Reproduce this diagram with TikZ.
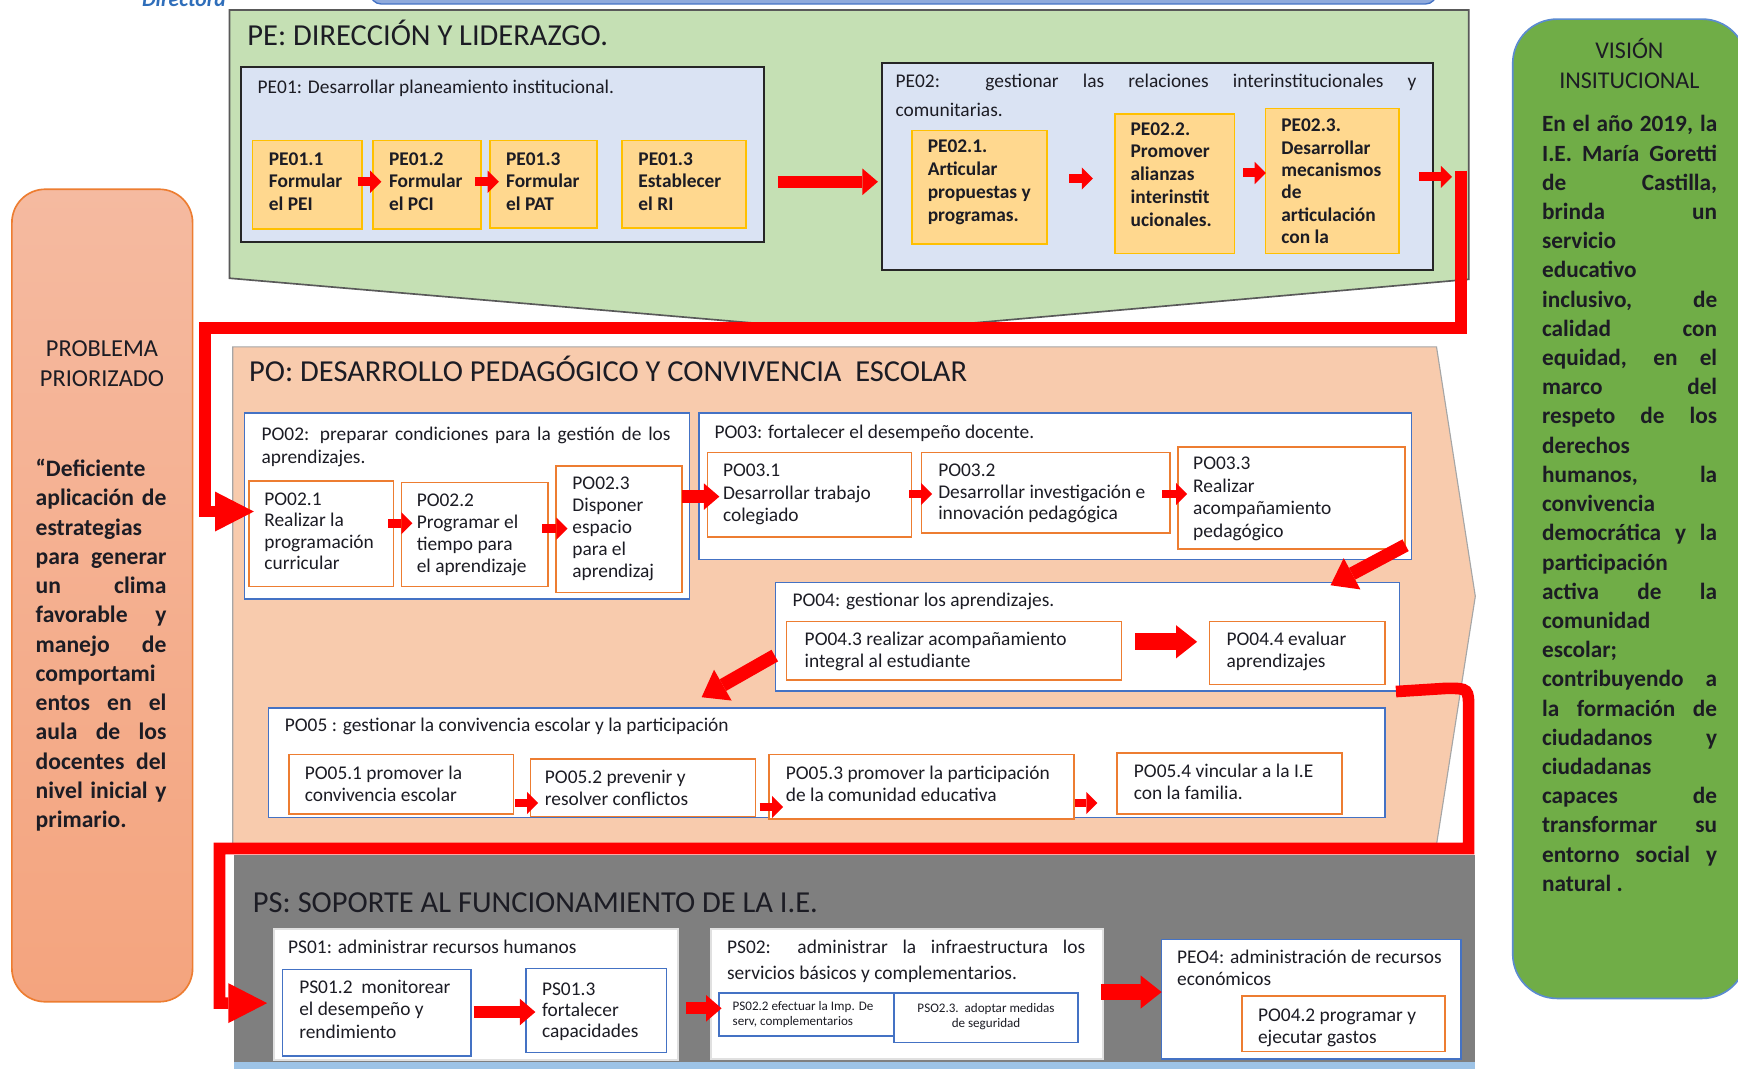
\documentclass[tikz,border=0pt]{standalone}
\usepackage{fontspec}
\setmainfont{Carlito}
\usetikzlibrary{arrows.meta}
\definecolor{ink}{HTML}{1C1C24}
\definecolor{pegreen}{HTML}{C5E0B4}
\definecolor{lblue}{HTML}{DAE3F3}
\definecolor{yell}{HTML}{FFD88F}
\definecolor{gold}{HTML}{FFC000}
\definecolor{peach}{HTML}{F8CBAD}
\definecolor{orng}{HTML}{ED7D31}
\definecolor{bblue}{HTML}{4472C4}
\definecolor{psgray}{HTML}{7F7F7F}
\definecolor{strip}{HTML}{9DC3E6}
\definecolor{salmontop}{HTML}{F5BAA0}
\definecolor{salmonbot}{HTML}{F4A47E}
\definecolor{vgreen}{HTML}{70AD47}
\definecolor{vborder}{HTML}{5B8BD0}
\definecolor{barblue}{HTML}{8FAADC}
\definecolor{dirblue}{HTML}{2F6EBA}
\newcommand\fs[2]{\fontsize{#1pt}{#2pt}\selectfont}
\newcommand\jst[2]{\makebox[#1pt][s]{#2}}
\newcommand\ml[1]{\begin{tabular}[t]{@{}l@{}}#1\end{tabular}}
\newcommand\mlc[1]{\begin{tabular}[t]{@{}c@{}}#1\end{tabular}}
\newcommand\mk[6]{\node[#1, anchor=north west, minimum width=#5pt-#3pt, minimum height=#6pt-#4pt] (#2) at (#3,#4) {};}
\newcommand\harr[6]{\draw[#1, shorten <=#5pt, shorten >=#6pt] (#2.east |- 0,#4) -- (#3.west |- 0,#4);}
\begin{document}
\begin{tikzpicture}[x=1pt,y=-1pt,
 tx/.style={inner sep=0pt, outer sep=0pt, anchor=base west, text=ink, font=\fs{17.5}{20.5}},
 txb/.style={tx, font=\fs{17.5}{20.5}\bfseries},
 ttl/.style={inner sep=0pt, anchor=base west, text=ink, font=\fs{27.5}{30}},
 ybox/.style={draw=gold, fill=yell, line width=1.6pt, inner sep=0pt},
 lbbox/.style={draw=black!85, fill=lblue, line width=1.8pt, inner sep=0pt},
 wbb/.style={draw=bblue, fill=white, line width=1.4pt, inner sep=0pt},
 wob/.style={draw=orng, fill=white, line width=1.4pt, inner sep=0pt},
 wgb/.style={draw=black!12, fill=white, line width=2pt, inner sep=0pt},
 sarr/.style={draw=red, line width=8pt, -{Triangle[length=10pt,width=20pt,line width=0pt]}},
 marr/.style={draw=red, line width=11pt, -{Triangle[length=14pt,width=24pt,line width=0pt]}},
 larr/.style={draw=red, line width=15pt, -{Triangle[length=19pt,width=30pt,line width=0pt]}},
 darr/.style={draw=red, line width=12pt, -{Triangle[length=22pt,width=32pt,line width=0pt]}},
 bigl/.style={draw=red, line width=10.5pt, -{Triangle[length=35pt,width=36pt,line width=0pt]}},
]
\useasboundingbox (0,0) rectangle (1568,964.4);
\fill[white] (0,0) rectangle (1568,964.4);

% top decorations
\fill[barblue, draw=bblue, line width=1.2pt, rounded corners=10pt] (334,-20) rectangle (1296,3.6);
\node[inner sep=0pt, anchor=base west, text=dirblue, font=\fs{19.5}{20}\bfseries\itshape] (dir) at (128,6) {Directora};

% section backgrounds
\fill[pegreen, draw=black!65, line width=1.5pt] (207,9) -- (1325,9) -- (1325,252) -- (780,300) -- (207,251) -- cycle;
\fill[peach, draw=black!35, line width=1pt] (210,313) -- (1296,313) -- (1331,538) -- (1296,762) -- (210,762) -- cycle;
\fill[psgray] (211,771) rectangle (1331,960);
\fill[strip] (211,958) rectangle (1331,966);

% side boxes
\node[draw=orng, top color=salmontop, bottom color=salmonbot, rounded corners=30pt, line width=1.5pt, anchor=north west, minimum width=163pt, minimum height=733pt] (prob) at (10,170) {};
\node[draw=vborder, fill=vgreen, rounded corners=40pt, line width=1.5pt, anchor=north west, minimum width=211pt, minimum height=883.5pt] (vis) at (1364,16.5) {};
\node[inner sep=0pt, anchor=base, text=ink, font=\fs{22}{27}] (probt) at (92,322) {\mlc{PROBLEMA\\PRIORIZADO}};
\node[inner sep=0pt, anchor=base west, text=ink, font=\fs{21.3}{26.4}\bfseries] (probb) at (32,430) {\ml{%
“Deficiente\\
\jst{118}{aplicación de}\\
estrategias\\
\jst{118}{para generar}\\
\jst{118}{un clima}\\
\jst{118}{favorable y}\\
\jst{118}{manejo de}\\
comportami\\
\jst{118}{entos en el}\\
\jst{118}{aula de los}\\
\jst{118}{docentes del}\\
\jst{118}{nivel inicial y}\\
primario.}};
\node[inner sep=0pt, anchor=base, text=ink, font=\fs{21.7}{27}] (vist) at (1470,52.6) {\mlc{VISIÓN\\INSITUCIONAL}};
\node[inner sep=0pt, anchor=base west, text=ink, font=\fs{21}{26.35}\bfseries] (visb) at (1391,119) {\ml{%
\jst{158}{En el año 2019, la}\\
\jst{158}{I.E. María Goretti}\\
\jst{158}{de Castilla,}\\
\jst{158}{brinda un}\\
servicio\\
educativo\\
\jst{158}{inclusivo, de}\\
\jst{158}{calidad con}\\
\jst{158}{equidad, en el}\\
\jst{158}{marco del}\\
\jst{158}{respeto de los}\\
derechos\\
\jst{158}{humanos, la}\\
convivencia\\
\jst{158}{democrática y la}\\
participación\\
\jst{158}{activa de la}\\
comunidad\\
escolar;\\
\jst{158}{contribuyendo a}\\
\jst{158}{la formación de}\\
\jst{158}{ciudadanos y}\\
ciudadanas\\
\jst{158}{capaces de}\\
\jst{158}{transformar su}\\
\jst{158}{entorno social y}\\
natural .}};

% ===== PE =====
\node[ttl] (pet) at (223,41) {PE: DIRECCIÓN Y LIDERAZGO.};
\mk{lbbox}{pe01}{216.5}{59.6}{688}{217}
\node[tx] (pe01t) at (232.5,84) {PE01: Desarrollar planeamiento institucional.};
\mk{ybox}{pe11}{227}{126}{326}{206}
\mk{ybox}{pe12}{336}{126}{433}{206}
\mk{ybox}{pe13}{441}{126}{538}{205}
\mk{ybox}{pe14}{560.6}{126}{672}{205}
\node[txb] (pe11t) at (242.6,149) {\ml{PE01.1\\Formular\\el PEI}};
\node[txb] (pe12t) at (351,149) {\ml{PE01.2\\Formular\\el PCI}};
\node[txb] (pe13t) at (456.6,149) {\ml{PE01.3\\Formular\\el PAT}};
\node[txb] (pe14t) at (576,149) {\ml{PE01.3\\Establecer\\el RI}};
\harr{sarr}{pe11}{pe12}{164}{-5}{-8}
\harr{sarr}{pe12}{pe13}{164}{-6}{-9}

\mk{lbbox}{pe02}{795}{56}{1292}{243}
\node[tx, font=\fs{17.5}{26}] (pe02t) at (808,79) {\ml{\jst{470}{PE02: gestionar las relaciones interinstitucionales y}\\comunitarias.}};
\mk{ybox}{pe21}{822}{117}{944}{219.6}
\mk{ybox}{pe22}{1005}{102}{1113}{228}
\mk{ybox}{pe23}{1141}{97}{1261}{228}
\node[txb] (pe21t) at (837,138) {\ml{PE02.1.\\Articular\\propuestas y\\programas.}};
\node[txb] (pe22t) at (1020,122) {\ml{PE02.2.\\Promover\\alianzas\\interinstit\\ucionales.}};
\node[txb, font=\fs{17.5}{20.1}\bfseries] (pe23t) at (1156,119) {\ml{PE02.3.\\Desarrollar\\mecanismos\\de\\articulación\\con la}};
\harr{marr}{pe01}{pe02}{164}{12}{3}
\harr{sarr}{pe21}{pe22}{161}{19}{19}
\harr{sarr}{pe22}{pe23}{156}{7}{-1}
\coordinate (j1) at (1310,159.6);
\draw[sarr, shorten <=18pt] (pe23.east |- j1) -- (j1);

% PE -> PO connector points
\coordinate (j0) at (1318,154);
\coordinate (j2) at (1318,296);
\coordinate (j3) at (185,296);
\coordinate (j4) at (185,461.5);

% ===== PO =====
\node[ttl] (pot) at (224.6,344.5) {PO: DESARROLLO PEDAGÓGICO Y CONVIVENCIA\ \ ESCOLAR};
\mk{wbb}{po02}{220}{372}{621.5}{539.5}
\node[tx, font=\fs{17.5}{21}] (po02t) at (236,397) {\ml{\jst{369}{PO02: preparar condiciones para la gestión de los}\\aprendizajes.}};
\mk{wob}{po21}{224}{433}{354.5}{528.6}
\mk{wob}{po22}{361.4}{434.6}{493.8}{528.6}
\mk{wob}{po23}{500.8}{419.5}{614.5}{534}
\node[tx, font=\fs{17.5}{19.5}] (po21t) at (238.5,455.6) {\ml{PO02.1\\Realizar la\\programación\\curricular}};
\node[tx, font=\fs{17.5}{19.7}] (po22t) at (376,457) {\ml{PO02.2\\Programar el\\tiempo para\\el aprendizaje}};
\node[tx, font=\fs{17.5}{19.8}] (po23t) at (516.4,441.5) {\ml{PO02.3\\Disponer\\espacio\\para el\\aprendizaj}};
\harr{sarr}{po21}{po22}{472}{-5.5}{-10.6}
\harr{sarr}{po22}{po23}{477}{-5.8}{-11.2}

\mk{wbb}{po03}{629.7}{372}{1272.6}{504}
\node[tx] (po03t) at (644.7,395.4) {PO03: fortalecer el desempeño docente.};
\mk{wob}{po31}{637.5}{407.5}{821.5}{483.6}
\mk{wob}{po32}{830.5}{407.5}{1054.6}{480}
\mk{wob}{po33}{1062}{402.4}{1266.7}{494.5}
\node[tx, font=\fs{17.5}{20.3}] (po31t) at (652.3,430) {\ml{PO03.1\\Desarrollar trabajo\\colegiado}};
\node[tx, font=\fs{17.5}{19.5}] (po32t) at (846.5,430) {\ml{PO03.2\\Desarrollar investigación e\\innovación pedagógica}};
\node[tx, font=\fs{17.5}{20.2}] (po33t) at (1076.5,424) {\ml{PO03.3\\Realizar\\acompañamiento\\pedagógico}};
\harr{marr}{po23}{po31}{448}{-0.5}{-11.5}
\harr{sarr}{po31}{po32}{445.7}{-2.5}{-10.5}
\harr{sarr}{po32}{po33}{445.7}{-7.6}{-9}

\mk{wbb}{po04}{699}{525}{1262}{622.5}
\node[tx] (po04t) at (715,547.6) {PO04: gestionar los aprendizajes.};
\mk{wob}{po43}{709}{560}{1011}{612.6}
\mk{wob}{po44}{1090.4}{560}{1248.6}{617}
\node[tx, font=\fs{17.5}{20}] (po43t) at (726,582) {\ml{PO04.3 realizar acompañamiento\\integral al estudiante}};
\node[tx, font=\fs{17.5}{20}] (po44t) at (1106.6,582) {\ml{PO04.4 evaluar\\aprendizajes}};
\harr{larr}{po43}{po44}{579}{12}{10.4}
\draw[darr] ([yshift=4pt]po33.south east) -- ([xshift=-63pt,yshift=-3pt]po04.north east);

\mk{wbb}{po05}{241.6}{638}{1248.7}{737}
\node[tx] (po05t) at (257,660) {PO05 : gestionar la convivencia escolar y la participación};
\mk{wob}{po51}{260}{680}{462.6}{733.5}
\mk{wob}{po52}{477.8}{684}{681}{736}
\mk{wob}{po53}{693}{680}{968}{738}
\mk{wob}{po54}{1007}{678.5}{1210}{733.5}
\node[tx] (po51t) at (275,703) {\ml{PO05.1 promover la\\convivencia escolar}};
\node[tx] (po52t) at (491.6,706.6) {\ml{PO05.2 prevenir y\\resolver conflictos}};
\node[tx] (po53t) at (709,703) {\ml{PO05.3 promover la participación\\de la comunidad educativa}};
\node[tx] (po54t) at (1023,701) {\ml{PO05.4 vincular a la I.E\\con la familia.}};
\harr{sarr}{po51}{po52}{724.5}{0.4}{-7.7}
\harr{sarr}{po52}{po53}{728}{3}{-13.5}
\harr{sarr}{po53}{po54}{724.5}{0}{17}
\draw[darr] ([yshift=-17pt]po04.west) -- ([xshift=391.4pt,yshift=9pt]po05.north west);

% ===== PS =====
\node[ttl] (pst) at (228,823) {PS: SOPORTE AL FUNCIONAMIENTO DE LA I.E.};
\mk{wgb}{ps01}{246}{837}{611}{955}
\node[tx] (ps01t) at (260,860) {PS01: administrar recursos humanos};
\mk{wbb}{ps12}{254}{874}{424}{952}
\mk{wbb}{ps13}{474}{873}{600.7}{949}
\node[tx, font=\fs{17.5}{20.3}] (ps12t) at (270,896) {\ml{PS01.2\ \ monitorear\\el desempeño y\\rendimiento}};
\node[tx, font=\fs{17.5}{19}] (ps13t) at (489,897.7) {\ml{PS01.3\\fortalecer\\capacidades}};
\harr{marr}{ps12}{ps13}{913}{2}{-9}

\mk{wgb}{ps02}{640.6}{837}{994}{954.5}
\node[tx, font=\fs{17.5}{24}] (ps02t) at (656,860) {\ml{\jst{323}{PS02: administrar la infraestructura los}\\servicios básicos y complementarios.}};
\mk{wbb}{ps22}{648}{895}{806}{934}
\mk{wbb}{ps23}{806}{895}{971.7}{940}
\node[tx, font=\fs{11.8}{13.5}] (ps22t) at (661,912) {\ml{PS02.2 efectuar la Imp. De\\serv, complementarios}};
\node[inner sep=0pt, anchor=base, text=ink, font=\fs{11.8}{14}] (ps23t) at (889.6,913) {\mlc{PSO2.3.\ \ adoptar medidas\\de seguridad}};
\harr{marr}{ps01}{ps22}{909.7}{6}{-3}

\mk{wbb}{pe04}{1047}{847}{1317.6}{954.5}
\node[tx, font=\fs{17.5}{20}] (pe04t) at (1062,869) {\ml{PEO4: administración de recursos\\económicos}};
\mk{wob}{po42}{1120}{898}{1303}{948}
\node[tx, font=\fs{17.5}{19}] (po42t) at (1135,922) {\ml{PO04.2 programar y\\ejecutar gastos}};
\harr{larr}{ps02}{pe04}{895}{-2.5}{-1}

% big connectors
\draw[bigl, shorten >=-5pt] (j0) -- (j2) -- (j3) -- (j4) -- (po21.west |- j4);
\coordinate (k1) at (1305,621);
\coordinate (k2) at (1325,621);
\coordinate (k3) at (1325,641);
\coordinate (k4) at (1325,765.5);
\coordinate (k5) at (198,765.5);
\coordinate (k6) at (198,905);
\draw[bigl, shorten >=13pt] ([xshift=-4pt]po04.south east) -- (k1) .. controls (k2) .. (k3) -- (k4) -- (k5) -- (k6) -- (ps12.west |- k6);
\end{tikzpicture}
\end{document}
